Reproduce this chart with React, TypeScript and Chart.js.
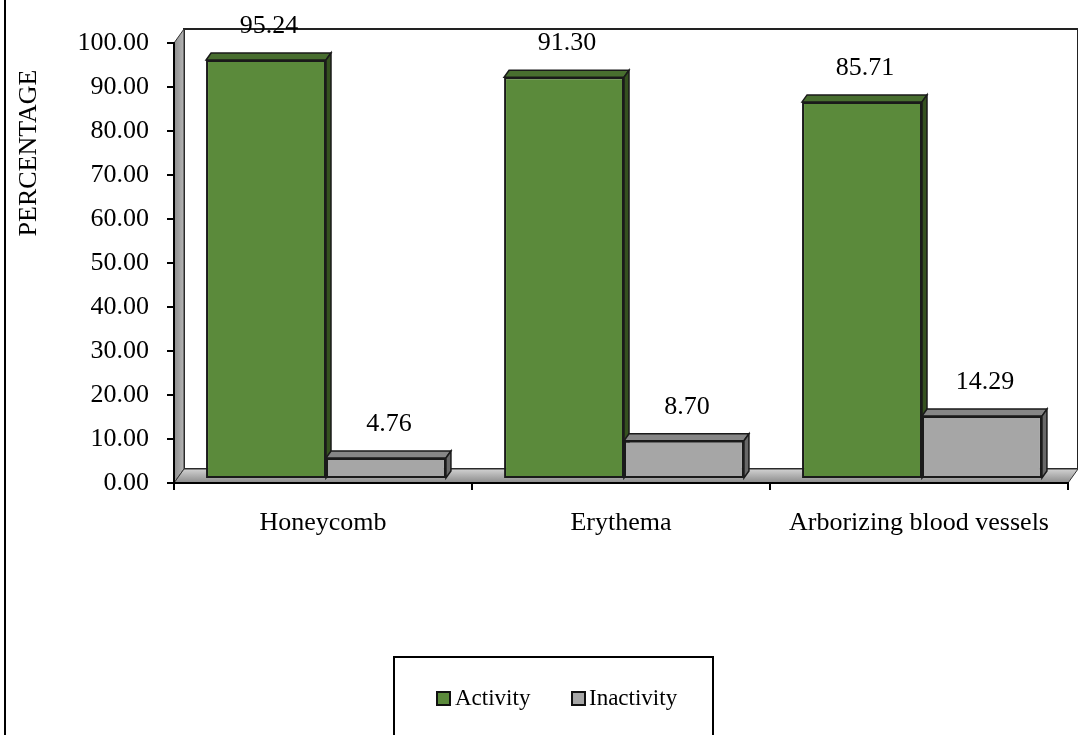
import { useEffect, useRef } from "react";
import { Chart, registerables } from "chart.js";

Chart.register(...registerables);

// ---- data ----
const categories = ["Honeycomb", "Erythema", "Arborizing blood vessels"];
const seriesNames = ["Activity", "Inactivity"];
const activityValues = [95.24, 91.3, 85.71];
const inactivityValues = [4.76, 8.7, 14.29];
const axisTitle = "PERCENTAGE";

// ---- styling ----
const FONT = "'Liberation Serif', 'Times New Roman', Times, serif";
const FONT_SIZE = 26;
const LEGEND_FONT_SIZE = 23;
const faces = [
  { front: "#5b8a3b", top: "#486e2f", side: "#35511f" },
  { front: "#a6a6a6", top: "#868686", side: "#686868" },
];
const EDGE = "#1a1a1a";
// depth of the box walls, the bars' position inside it and their own depth
const WALL_DX = 10;
const WALL_DY = -14;
const BAR_SHIFT_X = 3;
const BAR_SHIFT_Y = -4;
const BAR_DX = 5;
const BAR_DY = -7;

function poly(ctx: CanvasRenderingContext2D, pts: number[][], fill: any, stroke: string, lw: number) {
  ctx.beginPath();
  ctx.moveTo(pts[0][0], pts[0][1]);
  for (let i = 1; i < pts.length; i++) ctx.lineTo(pts[i][0], pts[i][1]);
  ctx.closePath();
  ctx.fillStyle = fill;
  ctx.fill();
  ctx.strokeStyle = stroke;
  ctx.lineWidth = lw;
  ctx.stroke();
}

const scene3d = {
  id: "scene3d",
  beforeDraw(chart: any) {
    const { ctx, chartArea: a } = chart;
    ctx.save();
    // outer frame edge
    ctx.strokeStyle = "#000";
    ctx.lineWidth = 2;
    ctx.beginPath();
    ctx.moveTo(5, 0);
    ctx.lineTo(5, chart.height);
    ctx.stroke();

    // back wall
    poly(
      ctx,
      [
        [a.left + WALL_DX, a.top + WALL_DY],
        [a.right + WALL_DX, a.top + WALL_DY],
        [a.right + WALL_DX, a.bottom + WALL_DY],
        [a.left + WALL_DX, a.bottom + WALL_DY],
      ],
      "#ffffff",
      "#222",
      2
    );
    // side wall
    const gw = ctx.createLinearGradient(a.left, 0, a.left + WALL_DX, 0);
    gw.addColorStop(0, "#8e8e8e");
    gw.addColorStop(1, "#b4b4b4");
    poly(
      ctx,
      [
        [a.left, a.bottom],
        [a.left, a.top],
        [a.left + WALL_DX, a.top + WALL_DY],
        [a.left + WALL_DX, a.bottom + WALL_DY],
      ],
      gw,
      "#333",
      1
    );
    // floor
    const gf = ctx.createLinearGradient(0, a.bottom + WALL_DY, 0, a.bottom);
    gf.addColorStop(0, "#d2d2d2");
    gf.addColorStop(1, "#8a8a8a");
    poly(
      ctx,
      [
        [a.left, a.bottom],
        [a.right, a.bottom],
        [a.right + WALL_DX, a.bottom + WALL_DY],
        [a.left + WALL_DX, a.bottom + WALL_DY],
      ],
      gf,
      "#333",
      1
    );
    ctx.restore();
  },
  beforeDatasetsDraw(chart: any) {
    const ctx = chart.ctx;
    ctx.save();
    ctx.translate(BAR_SHIFT_X, BAR_SHIFT_Y);
    // top and side faces, left to right; the front faces are drawn by the bar controller
    for (let j = 0; j < categories.length; j++) {
      for (let i = 0; i < chart.data.datasets.length; i++) {
        const bar = chart.getDatasetMeta(i).data[j];
        if (!bar) continue;
        const { x, y, base, width } = bar.getProps(["x", "y", "base", "width"], true);
        const L = x - width / 2;
        const R = x + width / 2;
        const T = y;
        const B = base;
        poly(
          ctx,
          [
            [L, T],
            [R, T],
            [R + BAR_DX, T + BAR_DY],
            [L + BAR_DX, T + BAR_DY],
          ],
          faces[i].top,
          EDGE,
          1.5
        );
        poly(
          ctx,
          [
            [R, T],
            [R, B],
            [R + BAR_DX, B + BAR_DY],
            [R + BAR_DX, T + BAR_DY],
          ],
          faces[i].side,
          EDGE,
          1.5
        );
      }
    }
  },
  afterDatasetsDraw(chart: any) {
    chart.ctx.restore();
  },
  afterDraw(chart: any) {
    const ctx = chart.ctx;
    ctx.save();
    ctx.fillStyle = "#000";
    ctx.font = `${FONT_SIZE}px ${FONT}`;
    ctx.textAlign = "center";
    ctx.textBaseline = "middle";

    // value labels above each bar
    chart.data.datasets.forEach((ds: any, i: number) => {
      chart.getDatasetMeta(i).data.forEach((bar: any, j: number) => {
        const { x, y } = bar.getProps(["x", "y"], true);
        ctx.fillText(Number(ds.data[j]).toFixed(2), x + BAR_SHIFT_X + 3, y + BAR_SHIFT_Y - 34);
      });
    });

    // vertical axis title
    ctx.save();
    ctx.translate(29, 153);
    ctx.rotate(-Math.PI / 2);
    ctx.fillText(axisTitle, 0, 0);
    ctx.restore();

    // legend
    ctx.font = `${LEGEND_FONT_SIZE}px ${FONT}`;
    ctx.strokeStyle = "#000";
    ctx.lineWidth = 2;
    ctx.strokeRect(394, 657, 319, 110);
    const items = [
      { x: 437, tx: 455 },
      { x: 572, tx: 589 },
    ];
    ctx.textAlign = "left";
    items.forEach((it, i) => {
      ctx.fillStyle = faces[i].front;
      ctx.fillRect(it.x, 692, 13, 13);
      ctx.strokeStyle = "#111";
      ctx.lineWidth = 2;
      ctx.strokeRect(it.x, 692, 13, 13);
      ctx.fillStyle = "#000";
      ctx.fillText(chart.data.datasets[i].label, it.tx, 699);
    });
    ctx.restore();
  },
};

export default function App() {
  const canvasRef = useRef<HTMLCanvasElement | null>(null);

  useEffect(() => {
    const canvas = canvasRef.current;
    if (!canvas) return;
    Chart.defaults.font.family = FONT;
    Chart.defaults.font.size = FONT_SIZE;
    Chart.defaults.color = "#000";

    const chart = new Chart(canvas, {
      type: "bar",
      data: {
        labels: categories,
        datasets: [
          {
            label: seriesNames[0],
            data: activityValues,
            backgroundColor: faces[0].front,
            borderColor: EDGE,
            borderWidth: 2,
            borderSkipped: false,
            clip: false,
          } as any,
          {
            label: seriesNames[1],
            data: inactivityValues,
            backgroundColor: faces[1].front,
            borderColor: EDGE,
            borderWidth: 2,
            borderSkipped: false,
            clip: false,
          } as any,
        ],
      },
      options: {
        responsive: false,
        animation: false,
        devicePixelRatio: 1,
        events: [],
        layout: { padding: { top: 43, right: 10, left: 0, bottom: 0 } },
        datasets: { bar: { categoryPercentage: 0.805, barPercentage: 1 } },
        plugins: { legend: { display: false }, tooltip: { enabled: false } },
        scales: {
          x: {
            grid: {
              offset: true,
              drawOnChartArea: false,
              drawTicks: true,
              tickLength: 7,
              color: "#000",
              lineWidth: 2,
            },
            border: { display: true, color: "#000", width: 2 },
            ticks: { padding: 18, maxRotation: 0, autoSkip: false, color: "#000" },
            afterFit(s: any) {
              s.height = 252;
            },
          },
          y: {
            min: 0,
            max: 100,
            grid: {
              drawOnChartArea: false,
              drawTicks: true,
              tickLength: 7,
              color: "#000",
              lineWidth: 2,
            },
            border: { display: true, color: "#000", width: 2 },
            ticks: {
              stepSize: 10,
              padding: 18,
              color: "#000",
              callback: (v: any) => Number(v).toFixed(2),
            },
            afterFit(s: any) {
              s.width = 174;
            },
          },
        },
      },
      plugins: [scene3d],
    });
    return () => chart.destroy();
  }, []);

  return (
    <div style={{ position: "absolute", left: 0, top: 0, width: 1078, height: 735, background: "#fff" }}>
      <canvas ref={canvasRef} width={1078} height={735} />
    </div>
  );
}
